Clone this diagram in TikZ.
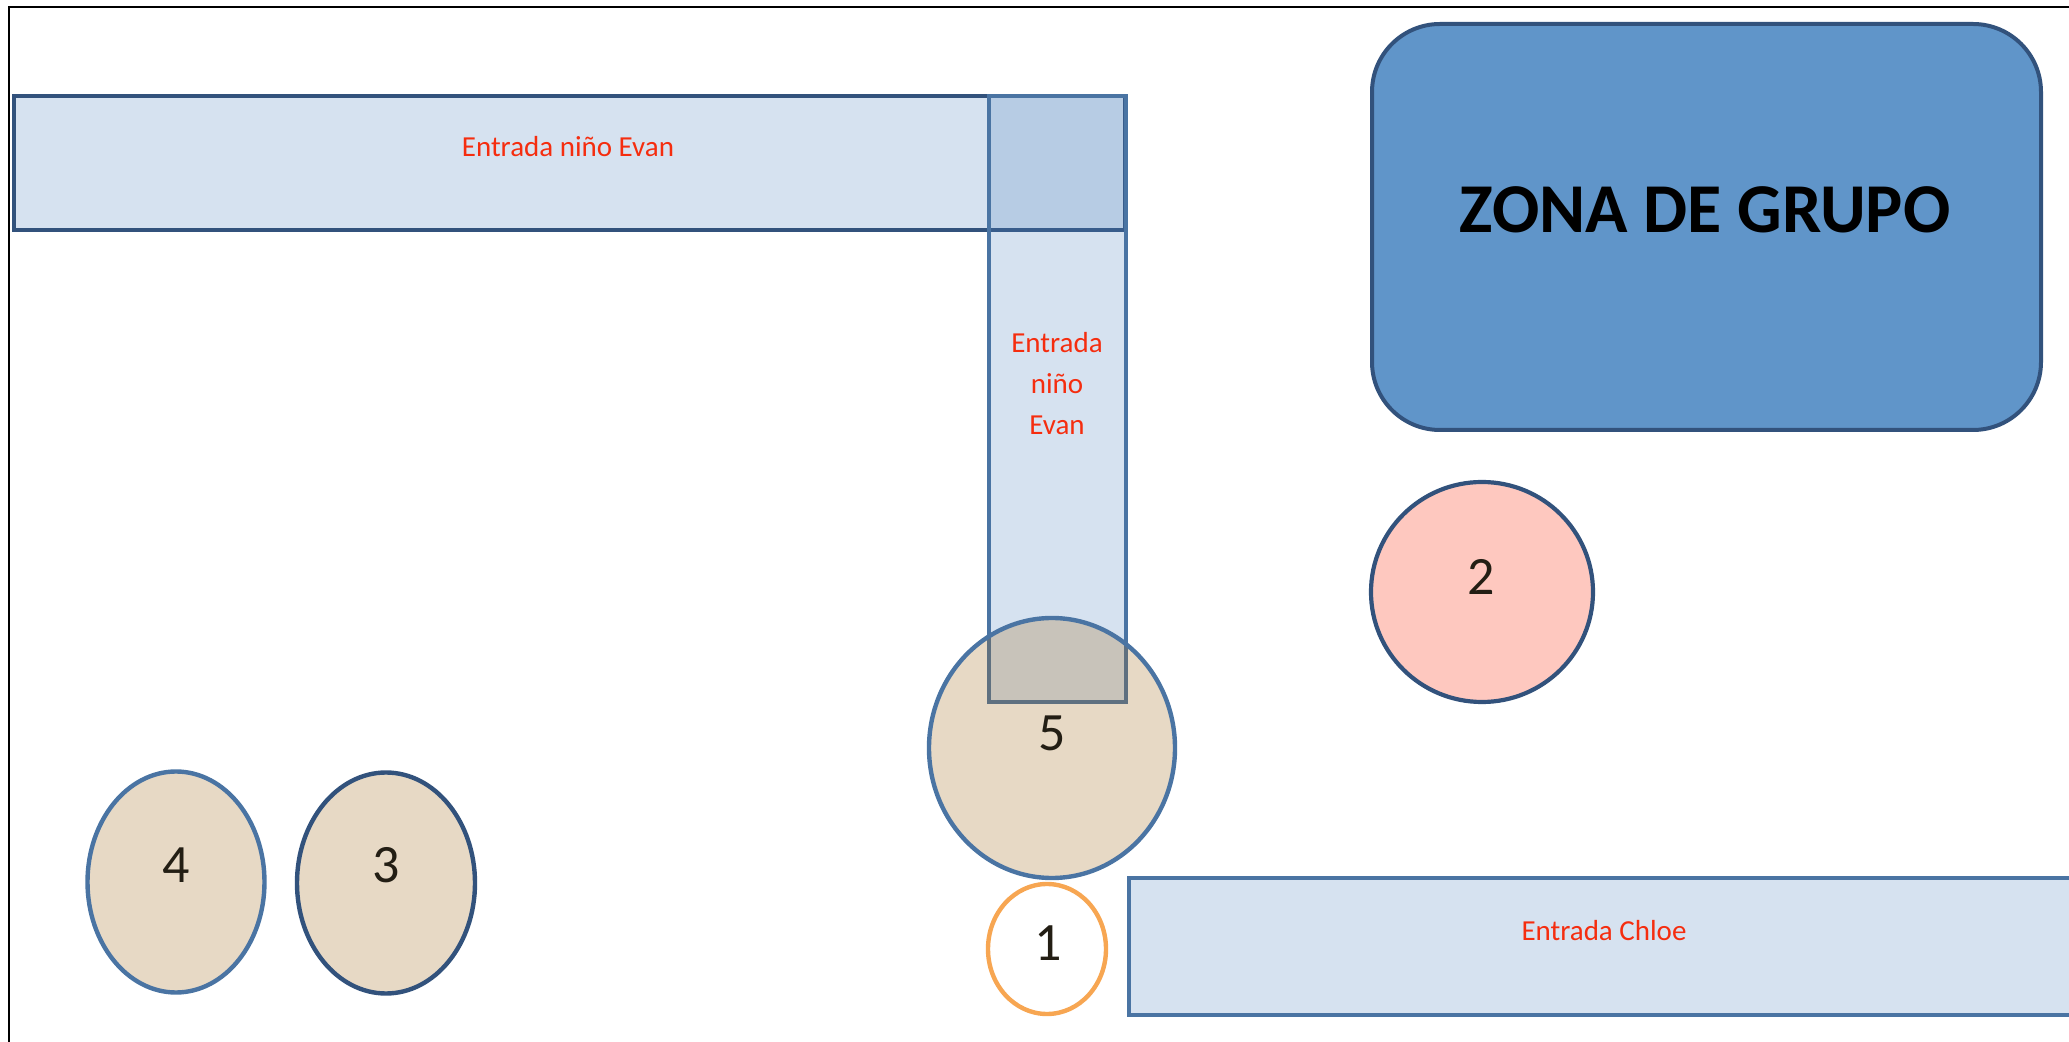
\documentclass[tikz,border=0pt]{standalone}
\usepackage{fontspec}
\setmainfont{Carlito}
\usetikzlibrary{shapes.geometric}
\definecolor{darkline}{RGB}{50,82,124}
\definecolor{midline}{RGB}{74,116,163}
\definecolor{accentblue}{RGB}{79,129,189}
\definecolor{zonafill}{RGB}{96,149,201}
\definecolor{peach}{RGB}{158,102,24}
\definecolor{pinkfill}{RGB}{254,200,191}
\definecolor{orangeline}{RGB}{247,166,82}
\definecolor{redtext}{RGB}{245,45,15}
\definecolor{numtext}{RGB}{35,30,20}
\tikzset{
  entrada/.style={rectangle, draw=midline, line width=2.4pt, fill=accentblue, fill opacity=0.23, draw opacity=1, inner sep=0pt},
  tablepeach/.style={ellipse, draw=midline, line width=2.2pt, fill=peach, fill opacity=0.25, draw opacity=1, inner sep=0pt},
  redlabel/.style={text=redtext, font=\fontsize{14.5}{20.5}\selectfont, inner sep=0pt, align=center},
  numlabel/.style={text=numtext, font=\fontsize{27}{30}\selectfont, inner sep=0pt},
}
\begin{document}
\begin{tikzpicture}[x=0.5pt, y=-0.5pt]
\useasboundingbox (0,0) rectangle (2069,1042);
% frame
\draw[line width=1.1pt, black] (2200,7) -- (9,7) -- (9,1200);
% horizontal entrance
\node[entrada, draw=darkline, minimum width=555.5pt, minimum height=67pt] (hevan) at (569.5,163) {};
% vertical entrance
\node[entrada, minimum width=68.5pt, minimum height=303pt] (vevan) at (1057.5,399) {};
% group zone
\node[rectangle, rounded corners=34pt, draw=darkline, line width=2pt, fill=zonafill, minimum width=334.5pt, minimum height=203pt] (zona) at (1706.5,227) {};
% circle 2
\node[ellipse, draw=darkline, line width=2.1pt, fill=pinkfill, minimum width=111pt, minimum height=110pt, inner sep=0pt] (c2) at (1482,592) {};
% circle 5
\node[tablepeach, minimum width=123pt, minimum height=130pt] (c5) at (1052,748) {};
% circle 1
\node[ellipse, draw=orangeline, line width=2.2pt, fill=white, minimum width=59pt, minimum height=65pt, inner sep=0pt] (c1) at (1047,949) {};
% Chloe entrance
\node[entrada, minimum width=485.5pt, minimum height=68.5pt] (chloe) at (1614.5,946.5) {};
% circles 4 and 3
\node[tablepeach, minimum width=88.5pt, minimum height=110.5pt] (c4) at (176,882) {};
\node[tablepeach, draw=darkline, minimum width=89pt, minimum height=110.5pt] (c3) at (386,883) {};
% texts
\node[redlabel] (thevan) at (568,147) {Entrada niño Evan};
\node[redlabel] (tvevan) at (1057,384) {Entrada\\niño\\Evan};
\node[redlabel] (tchloe) at (1604,931) {Entrada Chloe};
\node[font=\fontsize{35}{40}\selectfont\bfseries, inner sep=0pt] (tzona) at (1705,210) {ZONA DE GRUPO};
\node[numlabel] (n2) at (1481,577) {2};
\node[numlabel] (n5) at (1052,733) {5};
\node[numlabel] (n1) at (1048,943) {1};
\node[numlabel] (n4) at (176,865) {4};
\node[numlabel] (n3) at (386,865) {3};
\end{tikzpicture}
\end{document}
